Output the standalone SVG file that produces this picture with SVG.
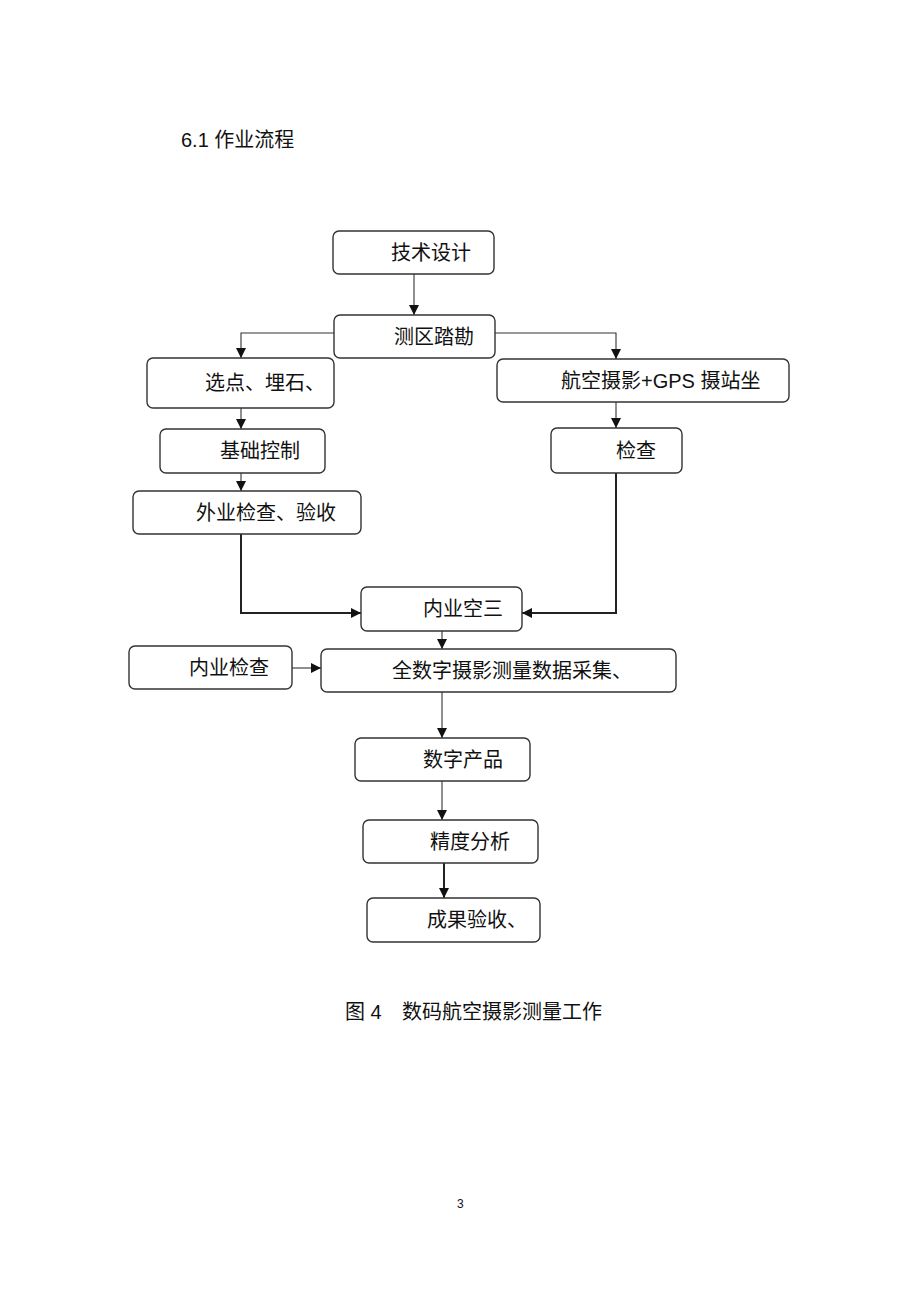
<svg xmlns="http://www.w3.org/2000/svg" width="920" height="1303" viewBox="0 0 920 1303">
<style>
.box{fill:#fff;stroke:#333;stroke-width:1.4}
.t{font-family:"Liberation Sans","Noto Sans CJK SC",sans-serif;font-size:20px;fill:#111}
.c{fill:none;stroke:#333;stroke-width:1.1}
.ck{fill:none;stroke:#222;stroke-width:2}
</style>
<defs>
<marker id="ah" viewBox="0 0 10 10" refX="10" refY="5" markerWidth="10" markerHeight="10" markerUnits="userSpaceOnUse" orient="auto">
<path d="M0,0 L10,5 L0,10 Z" fill="#111"/>
</marker>
</defs>
<rect width="920" height="1303" fill="#fff"/>
<text class="t" x="181" y="147" style="font-size:20px">6.1 作业流程</text>

<g id="connectors">
<path class="c" d="M414,274 V315" marker-end="url(#ah)"/>
<path class="c" d="M334,333 H241 V358" marker-end="url(#ah)"/>
<path class="c" d="M495,333 H616 V359" marker-end="url(#ah)"/>
<path class="c" d="M241,408 V429" marker-end="url(#ah)"/>
<path class="c" d="M616,402 V428" marker-end="url(#ah)"/>
<path class="c" d="M241,473 V491" marker-end="url(#ah)"/>
<path class="ck" d="M241,534 V613 H361" marker-end="url(#ah)"/>
<path class="ck" d="M616,473 V613 H522" marker-end="url(#ah)"/>
<path class="c" d="M442,631 V649" marker-end="url(#ah)"/>
<path class="c" d="M292,668 H321" marker-end="url(#ah)"/>
<path class="c" d="M442,692 V738" marker-end="url(#ah)"/>
<path class="c" d="M442,781 V820" marker-end="url(#ah)"/>
<path class="ck" d="M444,863 V898" marker-end="url(#ah)"/>
</g>

<g id="n1"><rect class="box" x="333" y="231" width="161" height="43" rx="6"/><text class="t" x="391" y="260">技术设计</text></g>
<g id="n2"><rect class="box" x="334" y="315" width="161" height="43" rx="6"/><text class="t" x="394" y="344">测区踏勘</text></g>
<g id="n3"><rect class="box" x="147" y="358" width="187" height="50" rx="6"/><text class="t" x="205" y="390">选点、埋石、</text></g>
<g id="n4"><rect class="box" x="497" y="359" width="292" height="43" rx="6"/><text class="t" x="561" y="388">航空摄影+GPS 摄站坐</text></g>
<g id="n5"><rect class="box" x="160" y="429" width="165" height="44" rx="6"/><text class="t" x="220" y="458">基础控制</text></g>
<g id="n6"><rect class="box" x="551" y="428" width="131" height="45" rx="6"/><text class="t" x="616" y="458">检查</text></g>
<g id="n7"><rect class="box" x="133" y="491" width="228" height="43" rx="6"/><text class="t" x="196" y="520">外业检查、验收</text></g>
<g id="n8"><rect class="box" x="361" y="587" width="161" height="44" rx="6"/><text class="t" x="423" y="616">内业空三</text></g>
<g id="n9"><rect class="box" x="129" y="646" width="163" height="43" rx="6"/><text class="t" x="189" y="675">内业检查</text></g>
<g id="n10"><rect class="box" x="321" y="649" width="355" height="43" rx="6"/><text class="t" x="392" y="678">全数字摄影测量数据采集、</text></g>
<g id="n11"><rect class="box" x="355" y="738" width="175" height="43" rx="6"/><text class="t" x="423" y="767">数字产品</text></g>
<g id="n12"><rect class="box" x="363" y="820" width="175" height="43" rx="6"/><text class="t" x="430" y="849">精度分析</text></g>
<g id="n13"><rect class="box" x="367" y="898" width="173" height="44" rx="6"/><text class="t" x="427" y="927">成果验收、</text></g>

<text class="t" x="345" y="1019">图 4</text>
<text class="t" x="402" y="1019">数码航空摄影测量工作</text>
<text class="t" x="457" y="1208" style="font-size:12px">3</text>
</svg>
